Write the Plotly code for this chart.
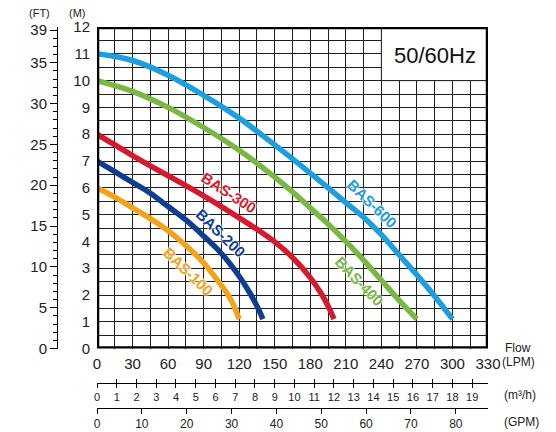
import plotly.graph_objects as go

# pump curves, flow in LPM and head in metres
q_100 = [0, 15, 30, 45, 60, 75, 90, 100, 110, 115, 120]
h_100 = [6.0, 5.65, 5.25, 4.85, 4.4, 3.85, 3.2, 2.65, 2.05, 1.65, 1.1]

q_200 = [0, 15, 30, 45, 60, 75, 90, 105, 120, 130, 136, 140]
h_200 = [7.0, 6.6, 6.2, 5.8, 5.3, 4.8, 4.2, 3.55, 2.7, 2.0, 1.5, 1.1]

q_300 = [0, 15, 30, 45, 60, 75, 90, 105, 120, 135, 150, 165, 180, 190, 196, 200]
h_300 = [8.0, 7.6, 7.2, 6.82, 6.45, 6.08, 5.7, 5.3, 4.88, 4.45, 3.98, 3.4, 2.65, 2.0, 1.5, 1.1]

q_400 = [0, 30, 60, 90, 120, 150, 165, 180, 195, 210, 225, 240, 255, 270]
h_400 = [10.0, 9.6, 9.0, 8.25, 7.4, 6.4, 5.85, 5.25, 4.65, 4.0, 3.3, 2.55, 1.8, 1.1]

q_600 = [0, 30, 60, 90, 120, 150, 180, 210, 225, 240, 255, 270, 285, 300]
h_600 = [11.0, 10.75, 10.2, 9.45, 8.6, 7.6, 6.55, 5.45, 4.9, 4.25, 3.5, 2.75, 1.95, 1.1]

models = ["BAS-100", "BAS-200", "BAS-300", "BAS-400", "BAS-600"]
colors = ["#f2a31b", "#0e3f8f", "#d7192d", "#78b843", "#1c9ee0"]

lpm_ticks = list(range(0, 331, 30))
m3h_ticks = list(range(0, 20))
gpm_ticks = list(range(0, 81, 10))
ft_ticks = [0, 5, 10, 15, 20, 25, 30, 35, 39]
m_ticks = list(range(0, 13))

# label positions (flow, head, angle) for the model names
label_pos = [(77, 2.86, 44), (105, 4.31, 44), (111, 5.82, 33), (221.5, 2.49, 46), (232, 5.4, 44)]

W, H = 556, 432
OFF = 8  # page body margin around the figure
ML, MR, MT, MB = 32, 76, 19, 0
pw, ph = W - ML - MR, H - MT - MB


def px(sx):
    # screen pixel -> paper x
    return (sx - OFF - ML) / pw


def py(sy):
    # screen pixel -> paper y
    return (H - MB - (sy - OFF)) / ph


xdom = [px(97), px(488)]
ydom = [py(348.6), py(27)]
txt = "#222222"
grid = "#1e1e1e"
font = "Liberation Sans, Arial, sans-serif"

fig = go.Figure()

for q, h, c in zip([q_100, q_200, q_300, q_400, q_600],
                   [h_100, h_200, h_300, h_400, h_600], colors):
    fig.add_trace(go.Scatter(x=q, y=h, mode="lines",
                             line=dict(color=c, width=5.5, shape="spline", smoothing=1),
                             showlegend=False, hoverinfo="skip"))

# dummy traces so the extra axes get drawn
for xa, ya in [("x", "y2"), ("x2", "y"), ("x3", "y"), ("x4", "y")]:
    fig.add_trace(go.Scatter(x=[0], y=[0], xaxis=xa, yaxis=ya, mode="markers",
                             marker=dict(opacity=0), showlegend=False, hoverinfo="skip"))

for name, c, (lx, ly, ang) in zip(models, colors, label_pos):
    fig.add_annotation(x=lx, y=ly, text="<b>" + name + "</b>", showarrow=False,
                       textangle=ang,
                       font=dict(family=font, size=15, color=c,
                                 shadow="0 0 2px white, 0 0 2px white, 0 0 3px white"))

fig.add_annotation(x=285, y=10.95, text="50/60Hz", showarrow=False,
                   font=dict(family=font, size=22, color="#111"))

for t, x, y, anc, fs in [("(FT)", 39, 13.5, "center", 11), ("(M)", 77, 13.5, "center", 11),
                         ("Flow", 503, 348, "left", 12), ("(LPM)", 500, 362, "left", 12),
                         ("(m³/h)", 502, 395, "left", 12), ("(GPM)", 502, 422, "left", 12)]:
    fig.add_annotation(xref="paper", yref="paper", x=px(x), y=py(y), text=t,
                       showarrow=False, xanchor=anc, yanchor="middle",
                       font=dict(family=font, size=fs, color=txt))

fig.add_shape(type="rect", xref="x", yref="y", x0=240, x1=330, y0=10, y1=12,
              fillcolor="white", line=dict(color=grid, width=1), layer="above")
fig.add_shape(type="rect", xref="x", yref="y", x0=0, x1=330, y0=0, y1=12,
              line=dict(color="black", width=4.5), layer="above")

fig.update_layout(
    width=W, height=H,
    margin=dict(l=ML, r=MR, t=MT, b=MB, autoexpand=False),
    paper_bgcolor="white", plot_bgcolor="white",
    font=dict(family=font, color=txt),
    xaxis=dict(domain=xdom, range=[0, 330], tickvals=lpm_ticks, showgrid=True,
               gridcolor=grid, gridwidth=1, zeroline=False, ticks="", automargin=False,
               ticklabelstandoff=4, tickfont=dict(size=15, color=txt),
               minor=dict(dtick=15, tick0=0, showgrid=True, gridcolor=grid, gridwidth=1)),
    yaxis=dict(domain=ydom, range=[0, 12], tickvals=m_ticks, showgrid=True,
               gridcolor=grid, gridwidth=1, zeroline=False, ticks="", automargin=False,
               ticklabelstandoff=6, tickfont=dict(size=15, color=txt),
               minor=dict(dtick=0.5, tick0=0, showgrid=True, gridcolor=grid, gridwidth=1)),
    yaxis2=dict(domain=ydom, overlaying="y", anchor="free", position=px(57), side="left",
                range=[0, 12 * 3.28084], tickvals=ft_ticks, showgrid=False, zeroline=False,
                showline=True, linecolor="black", linewidth=1, ticks="outside", ticklen=7,
                tickcolor="black", tickfont=dict(size=15, color=txt), automargin=False,
                minor=dict(dtick=1, tick0=0, ticks="outside", ticklen=4, tickcolor="black")),
    xaxis2=dict(domain=xdom, overlaying="x", anchor="free", position=py(383), side="bottom",
                range=[0, 330 * 0.06], tickvals=m3h_ticks, showgrid=False, zeroline=False,
                showline=True, linecolor="black", linewidth=1, ticks="outside", ticklen=4,
                tickcolor="black", tickfont=dict(size=11, color=txt), automargin=False),
    xaxis3=dict(domain=xdom, overlaying="x", anchor="free", position=py(383), side="bottom",
                range=[0, 330 * 0.06], tickvals=m3h_ticks, showgrid=False, zeroline=False,
                showline=False, ticks="inside", ticklen=4, tickcolor="black",
                showticklabels=False, automargin=False),
    xaxis4=dict(domain=xdom, overlaying="x", anchor="free", position=py(408), side="bottom",
                range=[0, 330 / 3.78541], tickvals=gpm_ticks, showgrid=False, zeroline=False,
                showline=True, linecolor="black", linewidth=1, ticks="outside", ticklen=5,
                tickcolor="black", tickfont=dict(size=12, color=txt), automargin=False),
)

fig.write_html("out.html")
